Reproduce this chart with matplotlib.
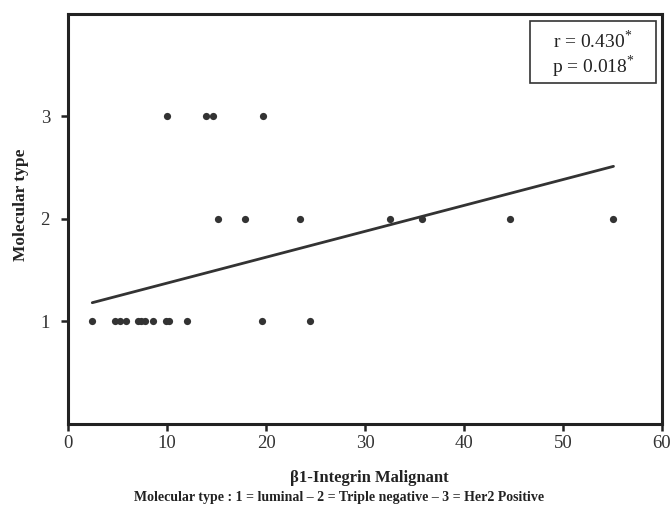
import matplotlib
matplotlib.use("Agg")
import matplotlib.pyplot as plt
from matplotlib.patches import Rectangle
import numpy as np

# ---- data ----
x_luminal = [2.45, 4.75, 5.3, 5.85, 7.07, 7.42, 7.78, 8.55, 9.85, 10.25, 12.0, 19.6, 24.4]
y_luminal = [1] * len(x_luminal)
x_triple = [15.2, 17.9, 23.4, 32.5, 35.8, 44.6, 55.1]
y_triple = [2] * len(x_triple)
x_her2 = [10.0, 13.9, 14.6, 19.7]
y_her2 = [3] * len(x_her2)

fit_intercept = 1.118
fit_slope = 0.0253
fit_x_range = [2.45, 55.1]

xticks = [0, 10, 20, 30, 40, 50, 60]
yticks = [1, 2, 3]
stats_text = "r = 0.430$^{*}$\np = 0.018$^{*}$"

plt.rcParams['font.family'] = ['Liberation Serif', 'DejaVu Serif']
plt.rcParams['mathtext.fontset'] = 'custom'
plt.rcParams['mathtext.rm'] = 'Liberation Serif'

W, H = 672, 508
fig = plt.figure(figsize=(6.72, 5.08), dpi=100)
ax = fig.add_axes([68/W, 1-423.5/H, (662-68)/W, (423.5-14)/H])

dark = '#333333'
xs = x_luminal + x_triple + x_her2
ys = y_luminal + y_triple + y_her2
ax.plot(xs, ys, 'o', color=dark, markersize=5.2, markeredgewidth=0, zorder=3)

fx = np.array(fit_x_range)
ax.plot(fx, fit_intercept + fit_slope * fx, color=dark, linewidth=2.0, solid_capstyle='round')

ax.set_xlim(0, 60)
ax.set_ylim(0, 4)
ax.set_xticks(xticks)
ax.set_yticks(yticks)
ax.tick_params(axis='both', direction='out', length=5, width=1.8, color='#222222',
               labelsize=13.5, labelcolor='#333333')
ax.tick_params(axis='x', pad=3)
ax.tick_params(axis='y', pad=8)
for s in ax.spines.values():
    s.set_linewidth(2.2)
    s.set_color('#222222')

fig.text(369/W, 1-478/H, 'β1-Integrin Malignant', ha='center', va='center',
         fontsize=12, fontweight='bold', color='#222222')
fig.text(21/W, 1-205/H, 'Molecular type', ha='center', va='center', rotation=90,
         fontsize=12.5, fontweight='bold', color='#222222')
fig.text(339/W, 1-497/H, 'Molecular type : 1 = luminal – 2 = Triple negative – 3 = Her2 Positive',
         ha='center', va='center', fontsize=10, fontweight='bold', color='#222222')

# stats box
bx0, bx1 = (530-68)/594, (656-68)/594
by0, by1 = (423.5-83)/409.5, (423.5-21)/409.5
ax.add_patch(Rectangle((bx0, by0), bx1-bx0, by1-by0, transform=ax.transAxes,
                       facecolor='white', edgecolor='#333333', linewidth=1.2, zorder=4))
ax.text((bx0+bx1)/2, (423.5-55)/409.5, stats_text, transform=ax.transAxes, ha='center', va='center',
        fontsize=14, color='#222222', linespacing=1.05, zorder=5)

fig.savefig('out.png', dpi=100)
